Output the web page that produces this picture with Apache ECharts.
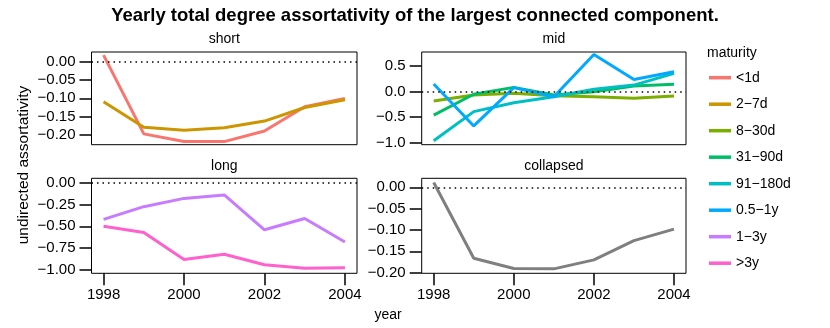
<!DOCTYPE html>
<html><head><meta charset="utf-8">
<script src="https://cdn.jsdelivr.net/npm/echarts@6/dist/echarts.min.js"></script>
<style>html,body{margin:0;padding:0;background:#fff}#c{width:830px;height:328px}</style>
</head><body><div id="c"></div>
<script>
const years = [1998, 1999, 2000, 2001, 2002, 2003, 2004];
const yearTicks = [1998, 2000, 2002, 2004];
const maturities = ['<1d', '2\u22127d', '8\u221230d', '31\u221290d', '91\u2212180d', '0.5\u22121y', '1\u22123y', '>3y'];
const colors = ['#F8766D', '#CD9600', '#7CAE00', '#00BE67', '#00BFC4', '#00A9FF', '#C77CFF', '#FF61CC'];
const panels = ['short', 'mid', 'long', 'collapsed'];

// short
const lt1d   = [0.018, -0.197, -0.218, -0.218, -0.189, -0.123, -0.100];
const d2_7   = [-0.109, -0.179, -0.187, -0.180, -0.162, -0.125, -0.104];
// mid
const d8_30  = [-0.18, -0.065, -0.03, -0.08, -0.10, -0.13, -0.085];
const d31_90 = [-0.46, -0.05, 0.085, -0.065, 0.0, 0.11, 0.145];
const d91_180 = [-0.96, -0.39, -0.215, -0.10, 0.05, 0.13, 0.36];
const y05_1  = [0.15, -0.67, 0.08, -0.10, 0.73, 0.24, 0.39];
// long
const y1_3   = [-0.42, -0.275, -0.18, -0.14, -0.54, -0.41, -0.68];
const gt3y   = [-0.50, -0.57, -0.88, -0.82, -0.94, -0.98, -0.975];
// collapsed
const collapsedVals = [0.011, -0.166, -0.19, -0.191, -0.17, -0.125, -0.098];

const shortTicks = [0, -0.05, -0.10, -0.15, -0.20];
const midTicks = [0.5, 0.0, -0.5, -1.0];
const longTicks = [0, -0.25, -0.50, -0.75, -1.00];
const collapsedTicks = [0, -0.05, -0.10, -0.15, -0.20];

const FONT = 'Liberation Sans, Arial, Helvetica, sans-serif';
const grids = [
  {left: 91.5, top: 52, width: 265.5, height: 92.7},
  {left: 421.7, top: 52, width: 264.3, height: 92.7},
  {left: 91.5, top: 178.3, width: 265.5, height: 95},
  {left: 421.7, top: 178.3, width: 264.3, height: 95}
];
const yRanges = [[-0.2265, 0.0265], [-1.038, 0.778], [-1.038, 0.05], [-0.2014, 0.021]];
const yTickSets = [shortTicks, midTicks, longTicks, collapsedTicks];
const yDigits = [2, 1, 2, 2];

function fmt(v, d) {
  const s = Math.abs(v).toFixed(d);
  return (v < -1e-9 ? '\u2212' : '') + s;
}
function pairs(vals) { return years.map((y, i) => [y, vals[i]]); }

const seriesSpec = [
  [lt1d, 0, 0], [d2_7, 1, 0],
  [d8_30, 2, 1], [d31_90, 3, 1], [d91_180, 4, 1], [y05_1, 5, 1],
  [y1_3, 6, 2], [gt3y, 7, 2]
];
const tickStyle = {show: true, inside: false, length: 12, lineStyle: {color: '#000', width: 1.5}};
const labelStyle = {color: '#000', fontSize: 15, fontFamily: FONT};

const series = [];
const zeroLine = {
  silent: true, symbol: 'none', label: {show: false},
  lineStyle: {color: '#000', type: [1.5, 4], width: 1.5},
  data: [{yAxis: 0}], animation: false
};
for (let g = 0; g < 4; g++) {
  series.push({type: 'line', name: 'ref' + g, xAxisIndex: g, yAxisIndex: g, data: [], markLine: zeroLine, silent: true});
}
seriesSpec.forEach(([vals, ci, g]) => {
  series.push({
    type: 'line', name: maturities[ci], xAxisIndex: g, yAxisIndex: g,
    data: pairs(vals), showSymbol: false, symbol: 'none',
    lineStyle: {width: 3, color: colors[ci]}, itemStyle: {color: colors[ci]},
    animation: false
  });
});
series.push({
  type: 'line', name: 'collapsed', xAxisIndex: 3, yAxisIndex: 3,
  data: pairs(collapsedVals), showSymbol: false, symbol: 'none',
  lineStyle: {width: 3, color: '#7F7F7F'}, itemStyle: {color: '#7F7F7F'}, animation: false
});

const xAxis = grids.map((g, i) => ({
  type: 'value', gridIndex: i, position: 'bottom', min: 1997.7, max: 2004.3,
  axisLine: {show: false, onZero: false}, splitLine: {show: false},
  axisTick: i >= 2 ? Object.assign({customValues: yearTicks}, tickStyle) : {show: false},
  axisLabel: i >= 2 ? Object.assign({customValues: yearTicks, margin: 14, formatter: v => String(v)}, labelStyle) : {show: false}
}));
const yAxis = grids.map((g, i) => ({
  type: 'value', gridIndex: i, position: 'left', min: yRanges[i][0], max: yRanges[i][1],
  axisLine: {show: false, onZero: false}, splitLine: {show: false},
  axisTick: Object.assign({customValues: yTickSets[i]}, tickStyle),
  axisLabel: Object.assign({customValues: yTickSets[i], margin: 16, formatter: v => fmt(v, yDigits[i])}, labelStyle)
}));

const stripPos = [[224.3, 39.5], [553.9, 39.5], [224.3, 166.5], [553.9, 166.5]];
const graphics = panels.map((p, i) => ({
  type: 'text', x: stripPos[i][0], y: stripPos[i][1],
  style: {text: p, align: 'center', verticalAlign: 'middle', fill: '#000', font: '14px ' + FONT}
}));
graphics.push({type: 'text', x: 24, y: 165, rotation: Math.PI / 2,
  style: {text: 'undirected assortativity', align: 'center', verticalAlign: 'middle', fill: '#000', font: '15.5px ' + FONT}});
graphics.push({type: 'text', x: 388, y: 315,
  style: {text: 'year', align: 'center', verticalAlign: 'middle', fill: '#000', font: '14px ' + FONT}});
graphics.push({type: 'text', x: 707, y: 53,
  style: {text: 'maturity', align: 'left', verticalAlign: 'middle', fill: '#000', font: '14px ' + FONT}});

const option = {
  animation: false,
  backgroundColor: '#fff',
  title: {text: 'Yearly total degree assortativity of the largest connected component.', left: 'center', top: 1,
    textStyle: {fontSize: 18.5, fontWeight: 'bold', color: '#000', fontFamily: FONT}},
  grid: grids.map(g => Object.assign({show: true, borderColor: '#000', borderWidth: 1, backgroundColor: 'transparent'}, g)),
  xAxis, yAxis, series,
  legend: {
    data: maturities, orient: 'vertical', left: 709, top: 70.7, padding: 0,
    icon: 'rect', itemWidth: 22, itemHeight: 3.5, itemGap: 12.5,
    textStyle: {color: '#000', fontSize: 14, fontFamily: FONT, lineHeight: 14},
    selectedMode: false
  },
  graphic: graphics
};
echarts.init(document.getElementById('c'), null, {renderer: 'canvas'}).setOption(option);
</script></body></html>
